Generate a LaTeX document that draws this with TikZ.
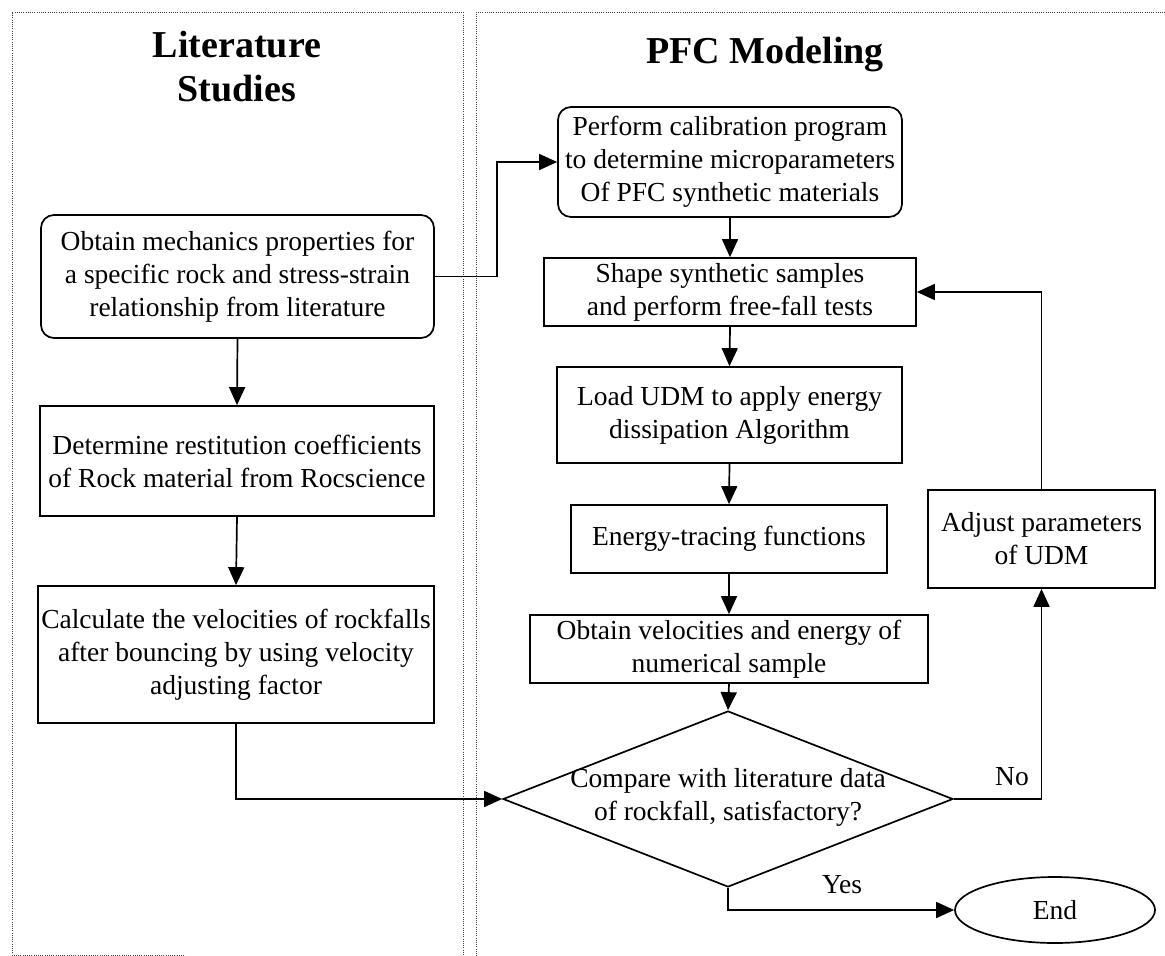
\documentclass[tikz,border=0pt]{standalone}
\usepackage{fontspec}
\setmainfont{Liberation Serif}
\usetikzlibrary{arrows.meta,shapes.geometric}
\begin{document}
\begin{tikzpicture}[x=1pt,y=-1pt,
  txt/.style={font=\fontsize{27.5}{33}\selectfont, align=center},
  box/.style={txt, draw, line width=1.7pt, inner sep=2pt},
  rbox/.style={box, rounded corners=13pt},
  decision/.style={draw, diamond, line width=1.7pt, inner sep=0pt, minimum width=450pt, minimum height=176pt},
  terminal/.style={txt, draw, ellipse, line width=1.7pt, inner sep=0pt, minimum width=200pt, minimum height=66pt},
  arr/.style={line width=1.7pt, -{Triangle[length=18pt,width=16pt]}},
  panel/.style={line width=0.9pt, dash pattern=on 0.9pt off 1.3pt, black!75},
  headline/.style={font=\fontsize{38}{44}\selectfont\bfseries, align=center}]

\useasboundingbox (0,0) rectangle (1165,956);

% dotted frames of the two columns
\draw[panel] (184,955) -- (12,955) -- (12,12) -- (463,12) -- (463,956);
\draw[panel] (476,956) -- (476,12) -- (1165,12);

% column headings
\node[headline] (headL) at (237,67) {Literature\\Studies};
\node[headline, anchor=base] (headR) at (765,63) {PFC Modeling};

% left column
\node[rbox, minimum width=393pt, minimum height=123pt] (lit) at (237.5,276.5)
  {Obtain mechanics properties for\\a specific rock and stress-strain\\relationship from literature};
\node[box, minimum width=394pt, minimum height=110pt] (rest) at (237,461)
  {Determine restitution coefficients\\of Rock material from Rocscience};
\node[box, minimum width=396pt, minimum height=137pt] (calc) at (236,654.5)
  {Calculate the velocities of rockfalls\\after bouncing by using velocity\\adjusting factor};

% right column
\node[rbox, minimum width=344pt, minimum height=110pt] (calib) at (730,162)
  {Perform calibration program\\to determine microparameters\\Of PFC synthetic materials};
\node[box, minimum width=372pt, minimum height=68pt] (shape) at (730,292)
  {Shape synthetic samples\\and perform free-fall tests};
\node[box, minimum width=345pt, minimum height=96pt] (load) at (729.5,415)
  {Load UDM to apply energy\\dissipation Algorithm};
\node[box, minimum width=316pt, minimum height=68pt] (trace) at (729,539)
  {Energy-tracing functions};
\node[box, minimum width=398pt, minimum height=68pt] (vel) at (729,649)
  {Obtain velocities and energy of\\numerical sample};
\node[decision] (cmp) at (728,799) {};
\node[txt] (cmptext) at ([yshift=2pt]cmp.center) {Compare with literature data\\of rockfall, satisfactory?};
\node[box, minimum width=227pt, minimum height=98pt] (adj) at (1041.5,539)
  {Adjust parameters\\of UDM};
\node[terminal] (end) at (1055,910) {End};

% connectors
\coordinate (jog) at (497,0);
\draw[arr] (lit.east) -- (lit.east -| jog) |- (calib.west);
\draw[arr] (lit.south) -- (rest.north);
\draw[arr] (rest.south) -- (calc.north);
\draw[arr] (calc.south) |- (cmp.west);
\draw[arr] (calib.south) -- (shape.north);
\draw[arr] (shape.south) -- (load.north);
\draw[arr] (load.south) -- (trace.north);
\draw[arr] (trace.south) -- (vel.north);
\draw[arr] (vel.south) -- (cmp.north);
\draw[arr] (cmp.east) -| (adj.south);
\draw[arr] (adj.north) |- (shape.east);
\draw[arr] (cmp.south) |- (end.west);

% branch labels
\node[txt] (no) at (1012,777) {No};
\node[txt] (yes) at (842,885) {Yes};
\end{tikzpicture}
\end{document}
